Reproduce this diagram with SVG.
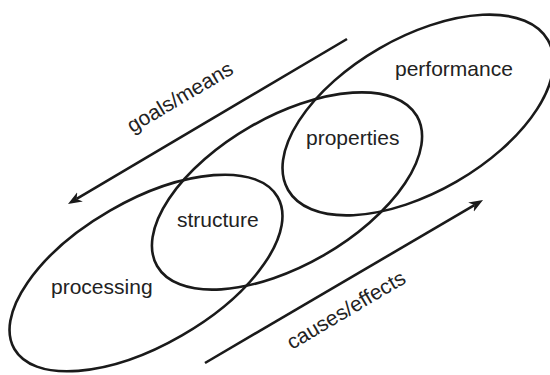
<svg xmlns="http://www.w3.org/2000/svg" width="550" height="375" viewBox="0 0 550 375">
<style>
.ring{fill:none;stroke:#1a1a1a;stroke-width:2.6}
.arr{fill:none;stroke:#1a1a1a;stroke-width:2.6}
.lbl{font-family:"Liberation Sans",Arial,sans-serif;font-size:21px;fill:#222}
</style>
<defs>
<marker id="head" viewBox="0 -6 14 12" refX="4" refY="0" markerWidth="14" markerHeight="12" markerUnits="userSpaceOnUse" orient="auto">
<path d="M0,-5.5 L14,0 L0,5.5 L4,0 Z" fill="#1a1a1a"/>
</marker>
</defs>
<rect width="550" height="375" fill="#fff"/>
<g id="processing">
<ellipse class="ring" cx="0" cy="0" rx="152" ry="72" transform="translate(146,273) rotate(-30)"/>
<text class="lbl" x="51" y="294">processing</text>
</g>
<g id="middle">
<ellipse class="ring" cx="0" cy="0" rx="150" ry="74" transform="translate(287,191) rotate(-30)"/>
</g>
<g id="performance">
<ellipse class="ring" cx="0" cy="0" rx="150" ry="77" transform="translate(418,115) rotate(-30)"/>
<text class="lbl" x="395" y="76">performance</text>
</g>
<g id="structure">
<text class="lbl" x="177" y="227">structure</text>
</g>
<g id="properties">
<text class="lbl" x="306" y="144.5">properties</text>
</g>
<g id="connectors">
<g id="goals-means">
<line class="arr" x1="347" y1="39" x2="76.6" y2="198.9" marker-end="url(#head)"/>
<text class="lbl" text-anchor="middle" transform="translate(180,97) rotate(-30.5)" x="0" y="7">goals/means</text>
</g>
<g id="causes-effects">
<line class="arr" x1="205" y1="363" x2="474.4" y2="205.1" marker-end="url(#head)"/>
<text class="lbl" text-anchor="middle" transform="translate(346,310) rotate(-30.5)" x="0" y="7">causes/effects</text>
</g>
</g>
</svg>
